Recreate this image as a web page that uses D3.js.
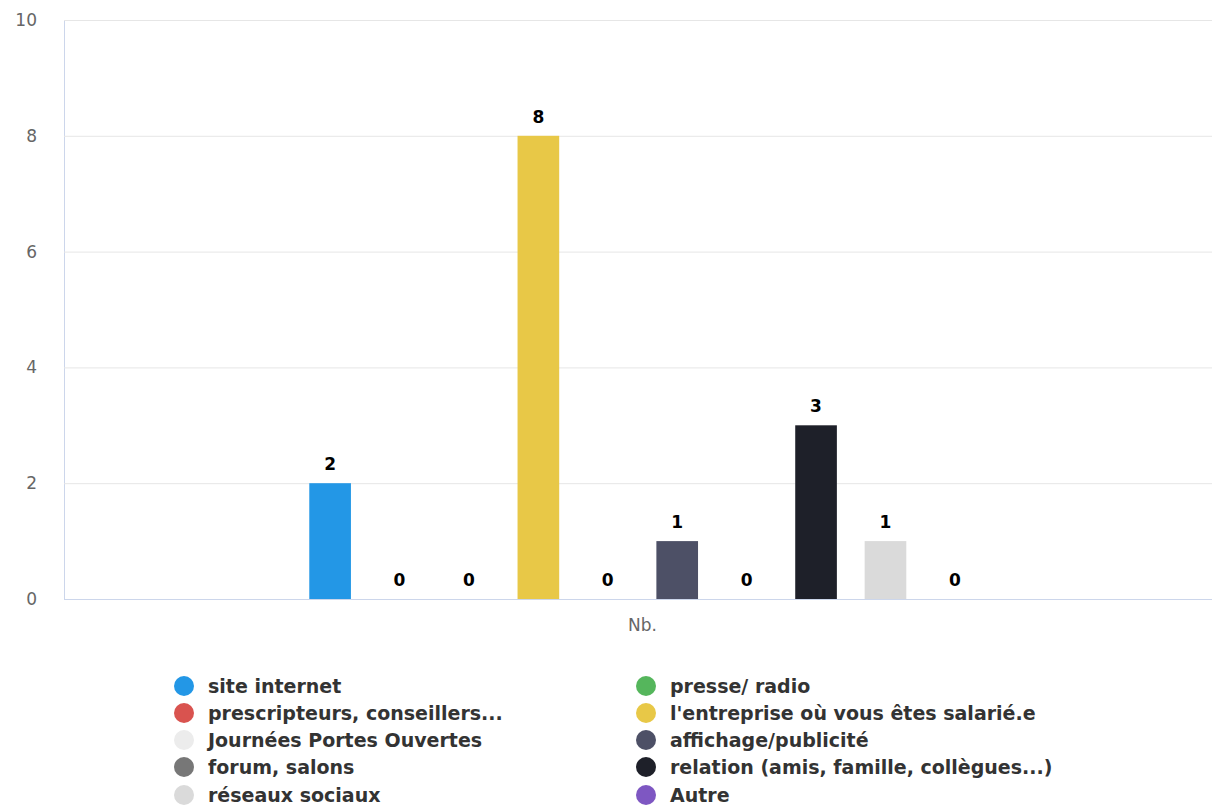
<!DOCTYPE html>
<html><head><meta charset="utf-8">
<script src="https://cdn.jsdelivr.net/npm/d3@7"></script>
<style>body{margin:0;background:#fff}svg{display:block}</style>
</head><body><svg id="c" width="1212" height="806"></svg>
<script>
const category = "Nb.";
const seriesNames = ["site internet","presse/ radio","prescripteurs, conseillers...","l'entreprise où vous êtes salarié.e","Journées Portes Ouvertes","affichage/publicité","forum, salons","relation (amis, famille, collègues...)","réseaux sociaux","Autre"];
const seriesValues = [2,0,0,8,0,1,0,3,1,0];
const seriesColors = ["#2397e6","#55b65c","#d9534f","#e8c847","#ececec","#4d5066","#777777","#1e2029","#dadada","#7e57c2"];
const yTicks = [0,2,4,6,8,10];

const svg = d3.select("#c");
const m = {l:64, r:1221, t:20, b:599};
const y = d3.scaleLinear().domain([0,10]).range([m.b,m.t]);
const x0 = d3.scaleBand().domain([category]).range([m.l,m.r]).paddingInner(0).paddingOuter(1/3);
const x1 = d3.scaleBand().domain(seriesNames).range([0,x0.bandwidth()]).paddingInner(0.4).paddingOuter(0.2);

const yAxis = d3.axisLeft(y).tickValues(yTicks).tickSize(-(m.r-m.l)).tickFormat(d3.format("d"));
const gy = svg.append("g").attr("transform",`translate(${m.l},0)`).call(yAxis);
gy.select(".domain").attr("stroke","#ccd6eb").attr("stroke-width",1);
gy.selectAll(".tick line").attr("stroke","#e6e6e6");
gy.selectAll(".tick text").attr("x",-27).attr("fill","#666").style("font-family","'DejaVu Sans',sans-serif").style("font-size","17px");

const xAxis = d3.axisBottom(x0).tickSize(0);
const gx = svg.append("g").attr("transform",`translate(0,${m.b})`).call(xAxis);
gx.select(".domain").attr("stroke","#ccd6eb").attr("d",`M${m.l},0.5H${m.r}`);
gx.selectAll(".tick text").attr("y",20).attr("fill","#666").style("font-family","'DejaVu Sans',sans-serif").style("font-size","17px");

const g = svg.append("g").attr("transform",`translate(${x0(category)},0)`);
const data = seriesNames.map((n,i)=>({n,v:seriesValues[i],c:seriesColors[i]}));
g.selectAll("rect").data(data).join("rect")
 .attr("x",d=>x1(d.n)).attr("width",x1.bandwidth())
 .attr("y",d=>y(d.v)).attr("height",d=>y(0)-y(d.v)).attr("fill",d=>d.c);
g.selectAll("text.lab").data(data).join("text").attr("class","lab")
 .attr("x",d=>x1(d.n)+x1.bandwidth()/2).attr("y",d=>y(d.v)-13)
 .attr("text-anchor","middle").attr("fill","#000")
 .style("font-family","'DejaVu Sans',sans-serif").style("font-weight","bold").style("font-size","17px")
 .style("paint-order","stroke").attr("stroke","#fff").attr("stroke-width",2)
 .text(d=>d.v);

const lg = svg.append("g");
const colX = [184,646], rowY = [686,713,740,767,795];
data.forEach((d,i)=>{
  const cx = colX[i%2], cy = rowY[Math.floor(i/2)];
  lg.append("circle").attr("cx",cx).attr("cy",cy).attr("r",10).attr("fill",d.c);
  lg.append("text").attr("x",cx+24).attr("y",cy).attr("dy","0.35em")
   .attr("fill","#333").style("font-family","'DejaVu Sans',sans-serif").style("font-weight","bold").style("font-size","19px")
   .text(d.n);
});
</script></body></html>
